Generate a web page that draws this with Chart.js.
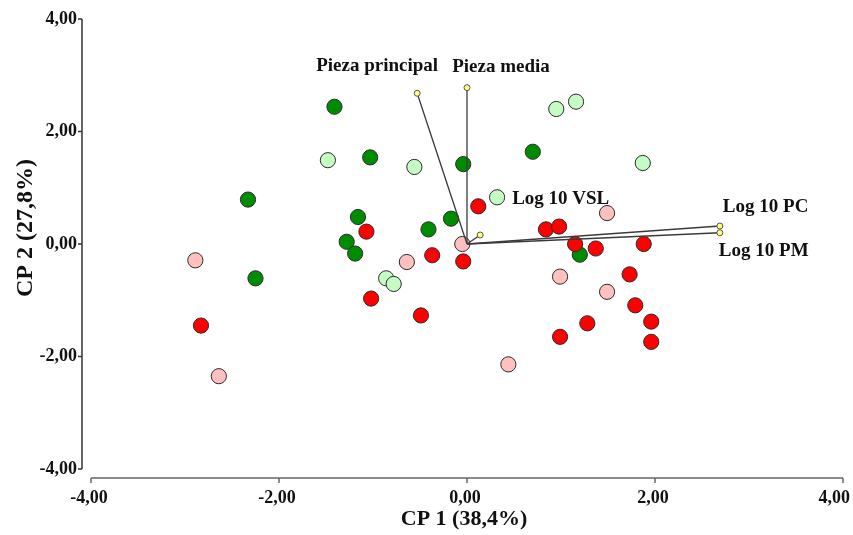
<!DOCTYPE html>
<html lang="es">
<head>
<meta charset="UTF-8">
<title>CP 1 vs CP 2</title>
<script src="https://cdn.jsdelivr.net/npm/chart.js"></script>
<style>
    body { margin: 0; background: #fff; }
    #wrap { width: 853px; height: 535px; }
</style>
</head>
<body>
<div id="wrap"><canvas id="pca" width="853" height="535"></canvas></div>
<script>
// scores per group (CP 1, CP 2)
const darkGreenX = [-1.41, -1.03, -0.04, -2.33, -1.16, -0.17, -0.41, -1.28, -1.19, -2.25, 0.70, 1.20];
const darkGreenY = [2.44, 1.54, 1.42, 0.79, 0.48, 0.45, 0.26, 0.04, -0.17, -0.61, 1.64, -0.19];

const lightGreenX = [-1.48, -0.56, -0.86, -0.78, 0.95, 1.16, 1.87, 0.32];
const lightGreenY = [1.49, 1.37, -0.61, -0.71, 2.40, 2.53, 1.44, 0.83];

const redX = [-1.07, -0.37, -0.04, -1.02, -0.49, -2.83, 0.12, 0.84, 0.98, 1.15, 1.37, 1.88, 1.73, 1.79, 1.96, 1.96, 1.28, 0.99];
const redY = [0.22, -0.20, -0.31, -0.97, -1.27, -1.45, 0.67, 0.26, 0.31, 0.00, -0.08, 0.00, -0.54, -1.09, -1.38, -1.74, -1.41, -1.65];

const pinkX = [-2.89, -0.64, -0.05, -2.64, 1.49, 0.99, 1.49, 0.44];
const pinkY = [-0.29, -0.32, 0.00, -2.35, 0.55, -0.58, -0.85, -2.14];

// variable loadings
const loadingNames = ['Pieza principal', 'Pieza media', 'Log 10 VSL', 'Log 10 PC', 'Log 10 PM'];
const loadingX = [-0.53, 0.00, 0.14, 2.69, 2.69];
const loadingY = [2.68, 2.78, 0.16, 0.32, 0.20];

const axisTicks = [-4, -2, 0, 2, 4];

const serif = '"Liberation Serif", "Times New Roman", serif';
const fmt = v => v.toFixed(2).replace('.', ',');
const pts = (xs, ys) => xs.map((x, i) => ({ x: x, y: ys[i] }));

// where each loading label sits relative to its arrow tip (px)
const labelOffsets = [
    { dx: -40, dy: -22, align: 'center' },
    { dx: 34, dy: -16, align: 'center' },
    { dx: 32, dy: -31, align: 'left' },
    { dx: 3, dy: -14, align: 'left' },
    { dx: -1, dy: 23, align: 'left' }
];

function groupSet(xs, ys, fill, order) {
    return {
        type: 'scatter',
        data: pts(xs, ys),
        backgroundColor: fill,
        borderColor: '#2b2b2b',
        borderWidth: 1,
        pointRadius: 7.6,
        order: order
    };
}

const vectorSets = loadingNames.map((name, i) => ({
    type: 'line',
    label: name,
    data: [{ x: 0, y: 0 }, { x: loadingX[i], y: loadingY[i] }],
    borderColor: '#3a3a3a',
    borderWidth: 1.3,
    pointRadius: [0, 3],
    pointBackgroundColor: '#ffff7a',
    pointBorderColor: '#555',
    pointBorderWidth: 1,
    fill: false,
    order: 0
}));

// axis lines, tick marks, x tick labels, axis titles and loading labels
const decor = {
    id: 'decor',
    afterDatasetsDraw(chart) {
        const { ctx, chartArea, scales, width } = chart;
        const xs = scales.x, ys = scales.y;
        ctx.save();

        // y axis, set a little left of the plot
        const ax = chartArea.left - 9;
        ctx.strokeStyle = '#333';
        ctx.lineWidth = 1.5;
        ctx.beginPath();
        ctx.moveTo(ax, ys.getPixelForValue(4));
        ctx.lineTo(ax, ys.getPixelForValue(-4));
        axisTicks.forEach(v => {
            const py = ys.getPixelForValue(v);
            ctx.moveTo(ax - 4, py);
            ctx.lineTo(ax, py);
        });
        ctx.stroke();

        // x axis, set a little below the plot
        const ay = chartArea.bottom + 9;
        ctx.strokeStyle = '#666';
        ctx.beginPath();
        ctx.moveTo(xs.getPixelForValue(-4), ay);
        ctx.lineTo(xs.getPixelForValue(4), ay);
        axisTicks.forEach(v => {
            const px = xs.getPixelForValue(v);
            ctx.moveTo(px, ay);
            ctx.lineTo(px, ay + 5);
        });
        ctx.stroke();

        ctx.fillStyle = '#111';
        ctx.textBaseline = 'middle';
        ctx.textAlign = 'center';

        // x tick labels, kept inside the canvas at the right end
        ctx.font = 'bold 18px ' + serif;
        axisTicks.forEach(v => {
            const txt = fmt(v);
            const half = ctx.measureText(txt).width / 2;
            const px = Math.min(xs.getPixelForValue(v) - 2, width - half - 3);
            ctx.fillText(txt, px, ay + 20);
        });

        ctx.font = 'bold 22px ' + serif;
        ctx.fillText('CP 1 (38,4%)', xs.getPixelForValue(0) - 3, 519);

        ctx.save();
        ctx.translate(26, 228);
        ctx.rotate(-Math.PI / 2);
        ctx.font = 'bold 24px ' + serif;
        ctx.fillText('CP 2 (27,8%)', 0, 0);
        ctx.restore();

        ctx.font = 'bold 19px ' + serif;
        ctx.textBaseline = 'alphabetic';
        loadingNames.forEach((name, i) => {
            const o = labelOffsets[i];
            ctx.textAlign = o.align;
            ctx.fillText(name,
                xs.getPixelForValue(loadingX[i]) + o.dx,
                ys.getPixelForValue(loadingY[i]) + o.dy);
        });
        ctx.restore();
    }
};

new Chart(document.getElementById('pca'), {
    data: {
        datasets: [
            ...vectorSets,
            groupSet(redX, redY, '#ff0000', 1),
            groupSet(pinkX, pinkY, '#ffc0c0', 2),
            groupSet(lightGreenX, lightGreenY, '#c4fcc4', 3),
            groupSet(darkGreenX, darkGreenY, '#008c00', 4)
        ]
    },
    options: {
        responsive: false,
        animation: false,
        layout: { padding: { top: 19, right: 10, left: 0, bottom: 0 } },
        plugins: { legend: { display: false }, tooltip: { enabled: false } },
        scales: {
            x: {
                type: 'linear',
                min: -4, max: 4,
                afterBuildTicks: s => { s.ticks = axisTicks.map(v => ({ value: v })); },
                afterFit: s => {
                    s.height = 66;
                    s.paddingLeft = 0;
                    s.paddingRight = 0;
                },
                grid: { display: false, drawTicks: false },
                border: { display: false },
                ticks: { display: false }
            },
            y: {
                type: 'linear',
                min: -4, max: 4,
                afterBuildTicks: s => { s.ticks = axisTicks.map(v => ({ value: v })); },
                afterFit: s => {
                    s.width = 91;
                    s.paddingTop = 0;
                    s.paddingBottom = 0;
                },
                grid: { display: false, drawTicks: false },
                border: { display: false },
                ticks: {
                    padding: 14,
                    color: '#111',
                    font: { family: serif, size: 18, weight: 'bold' },
                    callback: v => fmt(v)
                }
            }
        }
    },
    plugins: [decor]
});
</script>
</body>
</html>
